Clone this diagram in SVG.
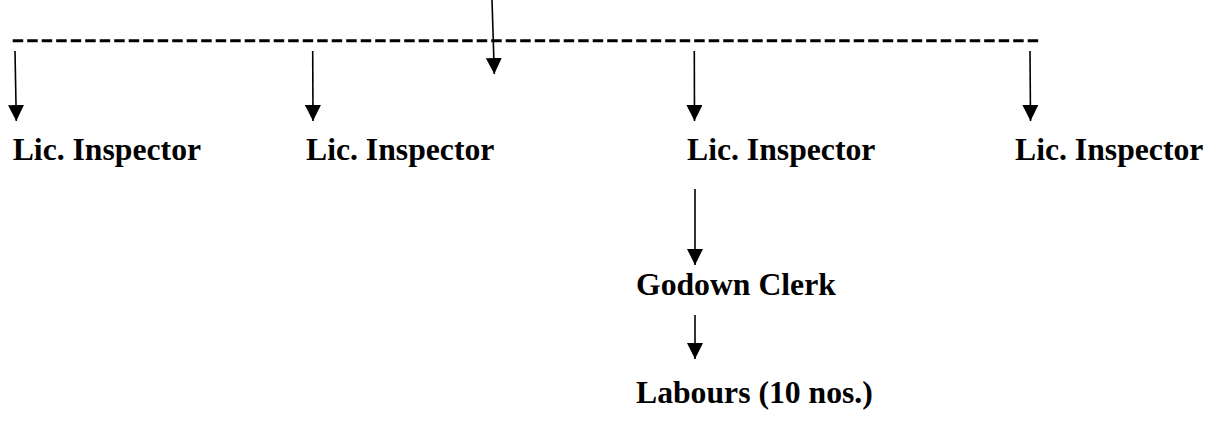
<svg xmlns="http://www.w3.org/2000/svg" width="1220" height="421" viewBox="0 0 1220 421">
  <style>
    .lbl { font-family: "Liberation Serif", "Times New Roman", serif; font-weight: bold; font-size: 31.7px; fill: #000; }
    .conn { stroke: #000; stroke-width: 1.6; fill: none; marker-end: url(#ah); }
    .dash { stroke: #000; stroke-width: 3; stroke-dasharray: 10.5 4; fill: none; }
  </style>
  <defs>
    <marker id="ah" viewBox="0 0 16 16" markerWidth="16" markerHeight="16" refX="16" refY="8" orient="auto" markerUnits="userSpaceOnUse">
      <path d="M0,0 L16,8 L0,16 z" fill="#000"/>
    </marker>
  </defs>
  <rect width="1220" height="421" fill="#fff"/>
  <g id="connectors">
    <line class="dash" x1="12.7" y1="40.7" x2="1040" y2="40.7"/>
    <line class="conn" x1="492" y1="0" x2="494.3" y2="74"/>
    <line class="conn" x1="15" y1="51" x2="16.3" y2="121"/>
    <line class="conn" x1="312.7" y1="51" x2="313" y2="121"/>
    <line class="conn" x1="694.3" y1="51" x2="694.5" y2="121"/>
    <line class="conn" x1="1030" y1="51" x2="1030.5" y2="121"/>
    <line class="conn" x1="695" y1="189" x2="695" y2="265"/>
    <line class="conn" x1="695" y1="315" x2="695" y2="359"/>
  </g>
  <g id="inspector1"><text class="lbl" x="12.7" y="159.5">Lic. Inspector</text></g>
  <g id="inspector2"><text class="lbl" x="306" y="159.5">Lic. Inspector</text></g>
  <g id="inspector3"><text class="lbl" x="687" y="159.5">Lic. Inspector</text></g>
  <g id="inspector4"><text class="lbl" x="1015" y="159.5">Lic. Inspector</text></g>
  <g id="godown-clerk"><text class="lbl" x="636" y="295">Godown Clerk</text></g>
  <g id="labours"><text class="lbl" x="636" y="403.3">Labours (10 nos.)</text></g>
</svg>
